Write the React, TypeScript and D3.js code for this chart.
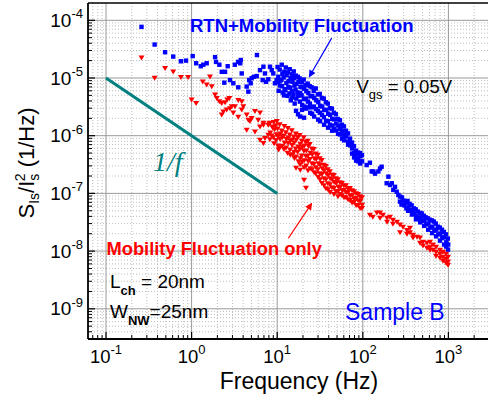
import React from 'react';
import * as d3 from 'd3';

const xDecades = [-1, 0, 1, 2, 3];
const yDecades = [-9, -8, -7, -6, -5, -4];

const blueData: [number, number][] = [
  [0.26, 7.7e-5], [0.37, 3.8e-5], [0.49, 2.8e-5], [0.61, 2.35e-5], [0.75, 1.95e-5], [0.86, 2.0e-5], [1.03, 2.4e-5],
  [1.13, 1.8e-5], [1.28, 1.6e-5], [1.37, 1.7e-5], [1.5, 1.8e-5], [1.88, 2.3e-5], [1.93, 1.9e-5], [2.11, 1.7e-5],
  [2.25, 1.28e-5], [2.46, 1.28e-5], [2.64, 1.6e-5], [3.2, 1.7e-5], [3.5, 1.9e-5], [3.7, 1.8e-5], [3.75, 2.05e-5],
  [3.85, 1.2e-5], [2.41, 8.3e-6], [2.81, 9.2e-6], [3.07, 8.1e-6], [3.51, 6.9e-6], [4.4, 7.1e-6], [4.6, 5.8e-6],
  [4.7, 9.2e-6], [4.9, 8.1e-6], [5.03, 9.9e-6], [5.35, 1.05e-5], [5.76, 1.08e-5], [5.8, 2.5e-5], [6.3, 1.37e-5],
  [6.9, 1.57e-5], [7.2, 1.2e-5], [6.77, 9.2e-6], [7.4, 8.6e-6], [7.87, 9.5e-6], [8.24, 1.57e-5], [8.63, 1.37e-5],
  [9.0, 1.2e-5], [9.4, 8.1e-6], [9.85, 9.2e-6],
  [10.1, 1.55e-5], [10.3, 1.05e-5], [10.2, 8.4e-6], [10.4, 6.0e-6],
  [10.7, 1.4e-5], [10.9, 9.0e-6], [10.8, 7.4e-6],
  [11.3, 1.7e-5], [11.5, 1.18e-5], [11.2, 9.3e-6], [11.6, 5.6e-6], [11.4, 7.2e-6],
  [12.1, 1.28e-5], [11.9, 1.02e-5], [12.2, 6.4e-6], [12.0, 5.0e-6],
  [12.6, 1.52e-5], [12.9, 1.12e-5], [12.8, 8.2e-6], [12.5, 6.1e-6],
  [13.3, 1.25e-5], [13.6, 8.8e-6], [13.5, 7.0e-6], [13.2, 4.9e-6],
  [14.0, 1.42e-5], [14.3, 9.9e-6], [14.2, 6.8e-6], [13.9, 5.4e-6], [14.4, 4.1e-6],
  [14.8, 1.16e-5], [15.1, 8.6e-6], [14.9, 5.9e-6], [15.0, 4.6e-6],
  [15.6, 1.3e-5], [15.8, 1.0e-5], [15.9, 7.4e-6], [15.5, 5.2e-6], [16.0, 3.6e-6],
  [16.5, 1.1e-5], [16.8, 7.9e-6], [16.4, 6.3e-6], [16.7, 4.4e-6], [16.6, 2.7e-6],
  [17.4, 1.05e-5], [17.7, 8.6e-6], [17.3, 5.6e-6], [17.6, 4.9e-6], [17.5, 2.35e-6],
  [18.3, 9.8e-6], [18.7, 7.0e-6], [18.6, 5.5e-6], [18.4, 3.9e-6], [18.5, 2.15e-6],
  [19.4, 8.4e-6], [19.7, 6.9e-6], [19.3, 5.0e-6], [19.6, 3.4e-6], [19.5, 2.8e-6],
  [20.4, 9.4e-6], [20.8, 6.5e-6], [20.5, 4.3e-6], [20.7, 3.2e-6], [20.6, 2.05e-6],
  [21.5, 7.6e-6], [21.9, 5.9e-6], [21.6, 4.4e-6], [21.8, 2.95e-6],
  [22.7, 8.0e-6], [23.1, 5.5e-6], [22.8, 3.9e-6], [23.0, 3.1e-6],
  [24.0, 7.2e-6], [24.4, 4.8e-6], [24.1, 3.6e-6], [24.3, 2.5e-6],
  [25.3, 6.9e-6], [25.7, 4.9e-6], [25.4, 3.1e-6], [25.6, 2.4e-6],
  [26.7, 6.0e-6], [27.1, 4.5e-6], [26.8, 3.2e-6], [27.0, 2.15e-6],
  [28.2, 6.6e-6], [28.6, 4.1e-6], [28.4, 2.9e-6],
  [29.8, 5.2e-6], [30.2, 3.8e-6], [29.9, 2.7e-6], [30.1, 1.9e-6],
  [31.4, 5.3e-6], [31.8, 3.3e-6], [31.5, 2.5e-6], [31.7, 1.78e-6],
  [33.2, 4.5e-6], [33.6, 3.2e-6], [33.4, 2.3e-6],
  [35.0, 4.4e-6], [35.4, 2.8e-6], [35.1, 2.1e-6], [35.3, 1.55e-6],
  [37.0, 3.8e-6], [37.4, 2.8e-6], [37.2, 1.82e-6],
  [39.0, 3.6e-6], [39.4, 2.4e-6], [39.1, 1.78e-6], [39.3, 1.38e-6],
  [41.2, 3.0e-6], [41.6, 2.3e-6], [41.4, 1.55e-6],
  [43.5, 2.95e-6], [43.9, 1.95e-6], [43.6, 1.5e-6], [43.8, 1.22e-6],
  [45.9, 2.5e-6], [46.3, 1.92e-6], [46.1, 1.33e-6],
  [48.5, 2.35e-6], [48.9, 1.62e-6], [48.7, 1.23e-6],
  [51.2, 1.95e-6], [51.6, 1.5e-6], [51.4, 1.08e-6],
  [54.0, 1.85e-6], [54.4, 1.32e-6], [54.2, 1.05e-6],
  [57.0, 1.55e-6], [57.4, 1.22e-6], [57.2, 8.9e-7],
  [60.2, 1.45e-6], [60.6, 1.04e-6], [60.4, 8.3e-7],
  [63.6, 1.22e-6], [64.0, 9.7e-7],
  [67.1, 1.1e-6], [67.5, 7.9e-7], [67.3, 7.0e-7],
  [70.8, 8.9e-7], [71.2, 6.8e-7],
  [74.8, 7.6e-7], [75.2, 6.0e-7], [75.0, 4.9e-7],
  [78.9, 6.6e-7], [79.3, 5.0e-7], [79.1, 4.2e-7],
  [83.3, 5.5e-7], [83.7, 4.7e-7], [83.5, 3.7e-7],
  [87.9, 5.1e-7], [88.3, 4.0e-7], [88.1, 3.6e-7],
  [92.8, 5.0e-7], [93.2, 4.4e-7], [93.0, 3.3e-7],
  [97.8, 4.6e-7], [98.2, 3.6e-7],
  [111, 3.1e-7], [121, 3.4e-7], [127, 2.4e-7], [133, 2.4e-7], [139, 2.2e-7], [152, 2.4e-7], [159, 2.7e-7],
  [166, 2.9e-7], [190, 1.5e-7], [199, 1.95e-7], [208, 1.4e-7], [218, 1.5e-7], [227, 1.15e-7], [238, 1.3e-7],
  [249, 1.07e-7], [260, 9.4e-8], [272, 8.8e-8], [272, 7.2e-8],
  [287, 8.5e-8], [283, 6.4e-8], [300, 7.5e-8], [306, 6.2e-8], [318, 6.9e-8], [323, 5.5e-8], [333, 7.4e-8],
  [340, 5.7e-8], [338, 5.0e-8], [352, 6.6e-8], [359, 5.1e-8], [372, 6.2e-8], [379, 4.7e-8], [375, 4.3e-8],
  [394, 5.5e-8], [400, 4.5e-8], [415, 5.3e-8], [421, 4.0e-8], [418, 3.55e-8], [438, 4.85e-8], [446, 3.7e-8],
  [462, 4.6e-8], [470, 3.85e-8], [468, 3.15e-8], [488, 4.5e-8], [496, 3.4e-8], [515, 4.1e-8], [523, 3.35e-8],
  [520, 2.75e-8], [543, 3.85e-8], [552, 2.9e-8], [573, 3.7e-8], [583, 3.0e-8], [580, 2.35e-8], [605, 3.5e-8],
  [615, 2.55e-8], [640, 3.4e-8], [648, 2.65e-8], [645, 2.05e-8], [675, 3.25e-8], [685, 2.25e-8], [712, 3.0e-8],
  [722, 2.35e-8], [718, 1.8e-8], [752, 2.65e-8], [762, 1.95e-8], [794, 2.55e-8], [804, 2.0e-8], [798, 1.52e-8],
  [838, 2.35e-8], [848, 1.68e-8], [885, 2.15e-8], [895, 1.74e-8], [890, 1.3e-8], [934, 1.95e-8], [944, 1.42e-8],
  [940, 1.2e-8], [985, 1.65e-8], [995, 1.3e-8], [990, 1.06e-8],
];

const redData: [number, number][] = [
  [0.26, 2.25e-5], [0.37, 1.0e-5], [0.49, 1.47e-5], [0.61, 1.28e-5], [0.75, 1.03e-5], [0.91, 1.03e-5],
  [1.0, 4.2e-6], [1.13, 3.65e-6], [1.35, 8.6e-6], [1.5, 7.6e-6], [1.64, 1.05e-5], [1.72, 7.1e-6],
  [1.88, 5.1e-6], [1.97, 4.45e-6], [2.11, 3.9e-6], [2.25, 3.65e-6], [2.46, 3.75e-6], [2.61, 4.2e-6],
  [2.76, 4.45e-6], [2.35, 2.6e-6], [2.57, 2.8e-6], [2.81, 2.95e-6], [3.07, 2.5e-6], [3.21, 3.2e-6],
  [3.51, 2.1e-6], [3.85, 2.8e-6], [4.02, 3.2e-6], [4.4, 2.3e-6], [4.6, 1.87e-6], [5.03, 2.0e-6],
  [5.5, 2.65e-6], [6.0, 1.87e-6], [6.3, 2.5e-6], [3.51, 4.1e-6], [3.85, 3.9e-6], [2.25, 2.3e-6],
  [2.94, 3.2e-6], [4.81, 1.77e-6], [4.4, 1.25e-6], [5.5, 1.17e-6], [6.3, 1.43e-6], [6.9, 1.53e-6],
  [8.24, 1.66e-6], [9.0, 1.43e-6], [6.3, 8.4e-7], [7.2, 9.0e-7], [7.87, 1.03e-6], [6.9, 7.4e-7],
  [6.9, 1.66e-6], [7.87, 1.53e-6], [9.9, 1.77e-6],
  [8.1, 1.62e-6], [8.3, 1.12e-6], [8.2, 8.6e-7],
  [8.8, 1.38e-6], [8.6, 1.0e-6],
  [9.1, 1.7e-6], [9.3, 1.28e-6], [9.0, 9.3e-7], [9.2, 7.3e-7],
  [9.6, 1.5e-6], [9.8, 1.05e-6], [9.7, 8.3e-7],
  [10.1, 1.32e-6], [10.3, 9.8e-7], [10.2, 6.7e-7], [10.4, 5.7e-7],
  [10.7, 1.56e-6], [10.9, 1.08e-6], [10.8, 8.7e-7], [10.6, 6.2e-7],
  [11.3, 1.22e-6], [11.5, 9.4e-7], [11.4, 6.6e-7],
  [12.1, 1.45e-6], [11.9, 1.0e-6], [12.2, 7.5e-7], [12.0, 5.8e-7],
  [12.6, 1.13e-6], [12.8, 8.7e-7], [12.7, 6.2e-7],
  [13.3, 1.34e-6], [13.5, 9.2e-7], [13.4, 7.4e-7], [13.2, 5.0e-7],
  [14.0, 1.04e-6], [14.3, 8.1e-7], [14.1, 5.7e-7], [14.2, 4.6e-7],
  [14.8, 1.23e-6], [15.0, 8.5e-7], [14.9, 6.8e-7], [15.1, 4.7e-7],
  [15.6, 9.6e-7], [15.8, 7.5e-7], [15.7, 5.2e-7], [15.9, 4.05e-7],
  [16.5, 1.08e-6], [16.7, 8.4e-7], [16.4, 5.9e-7], [16.6, 4.3e-7], [16.6, 2.75e-7],
  [17.4, 9.4e-7], [17.6, 6.4e-7], [17.3, 5.2e-7], [17.7, 3.55e-7],
  [18.3, 1.02e-6], [18.6, 7.2e-7], [18.4, 5.8e-7], [18.7, 4.0e-7], [18.5, 3.15e-7], [18.6, 2.55e-7],
  [19.4, 8.1e-7], [19.7, 6.3e-7], [19.3, 4.5e-7], [19.6, 3.5e-7],
  [20.4, 9.3e-7], [20.8, 6.7e-7], [20.5, 5.4e-7], [20.7, 3.7e-7], [20.6, 2.8e-7], [20.6, 1.7e-7],
  [21.5, 7.7e-7], [21.9, 5.5e-7], [21.6, 4.4e-7], [21.8, 3.0e-7], [21.7, 1.24e-7],
  [22.7, 8.1e-7], [23.1, 6.6e-7], [22.8, 4.5e-7], [23.0, 3.6e-7], [22.9, 2.5e-7],
  [24.0, 7.1e-7], [24.4, 5.0e-7], [24.1, 3.9e-7], [24.3, 2.7e-7],
  [25.3, 5.9e-7], [25.7, 4.7e-7], [25.4, 3.3e-7], [25.6, 2.6e-7],
  [26.7, 5.8e-7], [27.1, 4.0e-7], [26.8, 3.2e-7], [27.0, 2.3e-7],
  [28.2, 4.85e-7], [28.6, 3.9e-7], [28.4, 2.8e-7], [28.3, 2.2e-7],
  [29.8, 4.6e-7], [30.2, 3.3e-7], [29.9, 2.6e-7], [30.1, 1.9e-7],
  [31.4, 4.0e-7], [31.8, 3.1e-7], [31.5, 2.2e-7], [31.7, 1.74e-7],
  [33.2, 3.75e-7], [33.6, 2.7e-7], [33.4, 2.15e-7], [33.3, 1.5e-7],
  [35.0, 3.1e-7], [35.4, 2.5e-7], [35.1, 1.8e-7], [35.3, 1.37e-7],
  [37.0, 2.95e-7], [37.4, 2.2e-7], [37.2, 1.74e-7], [37.1, 1.21e-7],
  [39.0, 2.6e-7], [39.4, 2.05e-7], [39.1, 1.48e-7], [39.3, 1.17e-7],
  [41.2, 2.4e-7], [41.6, 1.8e-7], [41.4, 1.43e-7], [41.5, 1.04e-7],
  [43.5, 2.1e-7], [43.9, 1.74e-7], [43.6, 1.26e-7],
  [45.9, 2.05e-7], [46.3, 1.55e-7], [46.1, 1.22e-7], [46.0, 9.6e-8],
  [48.5, 1.8e-7], [48.9, 1.49e-7], [48.7, 1.08e-7],
  [51.2, 1.74e-7], [51.6, 1.3e-7], [51.4, 1.09e-7], [51.3, 8.8e-8],
  [54.0, 1.54e-7], [54.4, 1.27e-7], [54.2, 9.6e-8],
  [57.0, 1.5e-7], [57.4, 1.12e-7], [57.2, 9.2e-8],
  [60.2, 1.36e-7], [60.6, 1.13e-7], [60.4, 8.5e-8],
  [63.6, 1.37e-7], [64.0, 1.03e-7], [63.8, 8.5e-8],
  [67.1, 1.21e-7], [67.5, 1.04e-7], [67.3, 7.8e-8],
  [70.8, 1.22e-7], [71.2, 9.2e-8], [71.0, 7.6e-8],
  [74.8, 1.12e-7], [75.2, 9.2e-8], [75.0, 6.9e-8],
  [78.9, 1.08e-7], [79.3, 8.1e-8], [79.1, 7.0e-8],
  [83.3, 9.9e-8], [83.7, 8.2e-8], [83.5, 6.2e-8],
  [87.9, 9.6e-8], [88.3, 7.5e-8], [88.1, 6.2e-8],
  [92.8, 8.8e-8], [93.2, 7.3e-8], [93.0, 5.5e-8],
  [97.8, 8.5e-8], [98.2, 6.3e-8], [98.0, 5.5e-8],
  [121, 4.2e-8], [131, 3.9e-8], [146, 4.6e-8], [159, 4.6e-8], [159, 3.75e-8], [172, 4.2e-8],
  [192, 3.75e-8], [192, 3.2e-8], [208, 3.9e-8], [225, 3.45e-8], [225, 2.95e-8], [251, 3.2e-8],
  [272, 2.85e-8], [272, 2.1e-8], [295, 2.6e-8], [328, 2.3e-8], [328, 1.98e-8], [356, 2.5e-8],
  [356, 2.1e-8], [386, 1.9e-8], [386, 1.7e-8], [430, 1.76e-8], [466, 1.7e-8], [466, 1.38e-8],
  [505, 1.44e-8], [505, 1.23e-8], [562, 1.38e-8], [562, 1.13e-8], [610, 1.44e-8], [610, 1.18e-8],
  [610, 1.04e-8], [661, 1.28e-8], [661, 1.04e-8], [717, 1.18e-8], [717, 9.6e-9], [717, 8.2e-9],
  [799, 1.04e-8], [799, 8.9e-9], [799, 7.6e-9], [865, 9.6e-9], [865, 7.9e-9], [865, 6.7e-9],
  [939, 8.9e-9], [939, 7.3e-9], [939, 6.2e-9], [990, 7.9e-9], [990, 6.5e-9], [990, 5.75e-9],
];

const oneOverF: [number, number][] = [[0.1, 1e-5], [10, 1e-7]];
const blueArrow: [number, number][] = [[43.3, 4.9e-5], [23.7, 1.05e-5]];
const redArrow: [number, number][] = [[13.5, 1.67e-8], [25.3, 6.7e-8]];

const SANS = "'Liberation Sans', Arial, Helvetica, sans-serif";
const BLUE = '#0000ff';
const RED = '#ff0000';
const TEAL = '#008080';

export default function App() {
  const W = 488, H = 394;
  const L = 88, T = 3, R = 492, B = 339;
  const x = d3.scaleLog().domain([0.1, 1000]).range([106, 448.4]);
  const y = d3.scaleLog().domain([1e-4, 1e-9]).range([20.3, 308.8]);

  const xMinor: number[] = [];
  for (let e = -2; e <= 4; e++) for (let k = 2; k <= 9; k++) {
    const v = k * Math.pow(10, e); const px = x(v);
    if (px > L + 0.5 && px < R) xMinor.push(v);
  }
  const yMinor: number[] = [];
  for (let e = -11; e <= -3; e++) for (let k = 2; k <= 9; k++) {
    const v = k * Math.pow(10, e); const py = y(v);
    if (py > T + 0.5 && py < B - 0.5) yMinor.push(v);
  }
  const line = d3.line<[number, number]>().x(d => x(d[0])).y(d => y(d[1]));

  return (
    <svg width={W} height={H} style={{ position: 'absolute', left: 0, top: 0, background: '#fff' }}>
      <defs>
        <clipPath id="plot"><rect x={L} y={T} width={R - L} height={B - T} /></clipPath>
        <marker id="ahB" viewBox="0 0 10 10" refX="9" refY="5" markerWidth="9" markerHeight="7" orient="auto" markerUnits="userSpaceOnUse">
          <path d="M0,0 L10,5 L0,10 Z" fill={BLUE} />
        </marker>
        <marker id="ahR" viewBox="0 0 10 10" refX="9" refY="5" markerWidth="9" markerHeight="7" orient="auto" markerUnits="userSpaceOnUse">
          <path d="M0,0 L10,5 L0,10 Z" fill={RED} />
        </marker>
      </defs>
      <rect x={0} y={0} width={W} height={H} fill="#fff" />
      <g clipPath="url(#plot)">
        {xMinor.map((v, i) => (
          <line key={'xm' + i} x1={x(v)} x2={x(v)} y1={T} y2={B} stroke="#bdbdbd" strokeWidth={1} strokeDasharray="1,2" />
        ))}
        {yMinor.map((v, i) => (
          <line key={'ym' + i} x1={L} x2={R} y1={y(v)} y2={y(v)} stroke="#bdbdbd" strokeWidth={1} strokeDasharray="1,2" />
        ))}
        {xDecades.map(e => (
          <line key={'xg' + e} x1={x(Math.pow(10, e))} x2={x(Math.pow(10, e))} y1={T} y2={B} stroke="#9a9a9a" strokeWidth={1} />
        ))}
        {yDecades.map(e => (
          <line key={'yg' + e} x1={L} x2={R} y1={y(Math.pow(10, e))} y2={y(Math.pow(10, e))} stroke="#9a9a9a" strokeWidth={1} />
        ))}
        <path d={line(oneOverF) || ''} stroke={TEAL} strokeWidth={3} fill="none" />
        {blueData.map((d, i) => (
          <rect key={'b' + i} x={x(d[0]) - 2.2} y={y(d[1]) - 2.2} width={4.4} height={4.4} fill={BLUE} />
        ))}
        {redData.map((d, i) => {
          const cx = x(d[0]), cy = y(d[1]);
          return <path key={'r' + i} d={`M${cx - 3},${cy - 2.3}L${cx + 3},${cy - 2.3}L${cx},${cy + 2.7}Z`} fill={RED} />;
        })}
      </g>
      <line x1={L} x2={R} y1={T} y2={T} stroke="#000" strokeWidth={1.5} />
      <line x1={L} x2={L} y1={T} y2={B} stroke="#000" strokeWidth={1.8} />
      <line x1={L} x2={R} y1={B} y2={B} stroke="#000" strokeWidth={1.8} />
      {xMinor.map((v, i) => (
        <line key={'xt' + i} x1={x(v)} x2={x(v)} y1={B} y2={B - 4} stroke="#000" strokeWidth={1} />
      ))}
      {xDecades.map(e => (
        <line key={'xT' + e} x1={x(Math.pow(10, e))} x2={x(Math.pow(10, e))} y1={B} y2={B - 7} stroke="#000" strokeWidth={1.2} />
      ))}
      {yMinor.map((v, i) => (
        <line key={'yt' + i} x1={L} x2={L + 4} y1={y(v)} y2={y(v)} stroke="#000" strokeWidth={1} />
      ))}
      {yDecades.map(e => (
        <line key={'yT' + e} x1={L} x2={L + 7} y1={y(Math.pow(10, e))} y2={y(Math.pow(10, e))} stroke="#000" strokeWidth={1.2} />
      ))}
      {xDecades.map(e => (
        <text key={'xl' + e} x={x(Math.pow(10, e))} y={362.5} textAnchor="middle" fontFamily={SANS} fontSize={18.5} fill="#000">
          10<tspan fontSize={13} dy={-8.5}>{e < 0 ? '-' + Math.abs(e) : String(e)}</tspan>
        </text>
      ))}
      {yDecades.map(e => (
        <text key={'yl' + e} x={83} y={y(Math.pow(10, e)) + 6.5} textAnchor="end" fontFamily={SANS} fontSize={19} fill="#000">
          10<tspan fontSize={13} dy={-8.5}>{'-' + Math.abs(e)}</tspan>
        </text>
      ))}
      <text x={299} y={388.5} textAnchor="middle" fontFamily={SANS} fontSize={23} fill="#000">Frequency (Hz)</text>
      <text transform="translate(34,163) rotate(-90)" textAnchor="middle" fontFamily={SANS} fontSize={22} fill="#000">
        S<tspan fontSize={14} dy={5}>Is</tspan><tspan dy={-5}>/I</tspan><tspan fontSize={14} dy={5}>s</tspan><tspan fontSize={14} dx={-7.5} dy={-14}>2</tspan><tspan dy={9}> (1/Hz)</tspan>
      </text>
      <line x1={x(blueArrow[0][0])} y1={y(blueArrow[0][1])} x2={x(blueArrow[1][0])} y2={y(blueArrow[1][1])} stroke={BLUE} strokeWidth={1.2} markerEnd="url(#ahB)" />
      <line x1={x(redArrow[0][0])} y1={y(redArrow[0][1])} x2={x(redArrow[1][0])} y2={y(redArrow[1][1])} stroke={RED} strokeWidth={1.2} markerEnd="url(#ahR)" />
      <text x={190} y={31.7} fontFamily={SANS} fontSize={18.5} fontWeight="bold" fill={BLUE}>RTN+Mobility Fluctuation</text>
      <text x={106.5} y={255} fontFamily={SANS} fontSize={18.3} fontWeight="bold" fill={RED}>Mobility Fluctuation only</text>
      <text x={356.5} y={92.7} fontFamily={SANS} fontSize={18.5} fill="#000">
        V<tspan fontSize={13} dy={6}>gs</tspan><tspan dy={-6}> = 0.05V</tspan>
      </text>
      <text x={110} y={288.3} fontFamily={SANS} fontSize={19} fill="#000">
        L<tspan fontSize={13} dy={6.5} fontWeight="bold">ch</tspan><tspan dy={-6.5}> = 20nm</tspan>
      </text>
      <text x={110} y={318.3} fontFamily={SANS} fontSize={19} fill="#000">
        W<tspan fontSize={13} dy={6.5} fontWeight="bold">NW</tspan><tspan dy={-6.5}>=25nm</tspan>
      </text>
      <text x={345} y={320} fontFamily={SANS} fontSize={23} fill={BLUE}>Sample B</text>
      <text x={153} y={171} fontFamily="'Liberation Serif', 'Times New Roman', serif" fontStyle="italic" fontSize={28} fill={TEAL}>1/f</text>
    </svg>
  );
}
